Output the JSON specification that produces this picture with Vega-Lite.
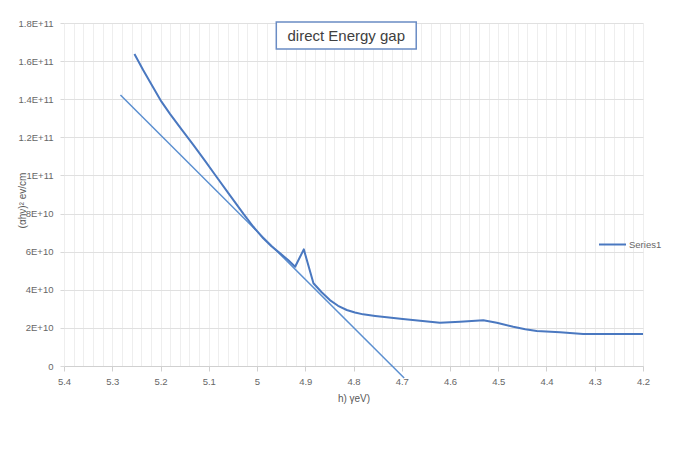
{
  "$schema": "https://vega.github.io/schema/vega-lite/v6.json",
  "width": 579,
  "height": 343,
  "autosize": {"type": "none"},
  "padding": {"left": 64, "top": 23, "right": 30, "bottom": 86},
  "background": "white",
  "config": {
    "view": {"stroke": null},
    "font": "Liberation Sans",
    "axis": {
      "titleFont": "Liberation Sans",
      "titleFontSize": 10,
      "titleFontWeight": "normal",
      "titleColor": "#595959",
      "labelFontSize": 9.5,
      "labelColor": "#666666",
      "grid": true,
      "gridWidth": 1
    }
  },
  "datasets": {
    "series": [
      {"energy": 5.254, "absorption": 1.637e11, "series": "Series1"},
      {"energy": 5.236, "absorption": 1.553e11, "series": "Series1"},
      {"energy": 5.216, "absorption": 1.465e11, "series": "Series1"},
      {"energy": 5.198, "absorption": 1.387e11, "series": "Series1"},
      {"energy": 5.180, "absorption": 1.322e11, "series": "Series1"},
      {"energy": 5.156, "absorption": 1.240e11, "series": "Series1"},
      {"energy": 5.132, "absorption": 1.160e11, "series": "Series1"},
      {"energy": 5.108, "absorption": 1.078e11, "series": "Series1"},
      {"energy": 5.084, "absorption": 9.93e10, "series": "Series1"},
      {"energy": 5.056, "absorption": 8.95e10, "series": "Series1"},
      {"energy": 5.028, "absorption": 7.98e10, "series": "Series1"},
      {"energy": 5.008, "absorption": 7.32e10, "series": "Series1"},
      {"energy": 4.987, "absorption": 6.70e10, "series": "Series1"},
      {"energy": 4.970, "absorption": 6.28e10, "series": "Series1"},
      {"energy": 4.952, "absorption": 5.91e10, "series": "Series1"},
      {"energy": 4.935, "absorption": 5.55e10, "series": "Series1"},
      {"energy": 4.921, "absorption": 5.21e10, "series": "Series1"},
      {"energy": 4.903, "absorption": 6.12e10, "series": "Series1"},
      {"energy": 4.883, "absorption": 4.34e10, "series": "Series1"},
      {"energy": 4.866, "absorption": 3.87e10, "series": "Series1"},
      {"energy": 4.849, "absorption": 3.46e10, "series": "Series1"},
      {"energy": 4.832, "absorption": 3.16e10, "series": "Series1"},
      {"energy": 4.814, "absorption": 2.94e10, "series": "Series1"},
      {"energy": 4.797, "absorption": 2.81e10, "series": "Series1"},
      {"energy": 4.780, "absorption": 2.71e10, "series": "Series1"},
      {"energy": 4.755, "absorption": 2.63e10, "series": "Series1"},
      {"energy": 4.731, "absorption": 2.56e10, "series": "Series1"},
      {"energy": 4.698, "absorption": 2.47e10, "series": "Series1"},
      {"energy": 4.662, "absorption": 2.38e10, "series": "Series1"},
      {"energy": 4.621, "absorption": 2.27e10, "series": "Series1"},
      {"energy": 4.579, "absorption": 2.32e10, "series": "Series1"},
      {"energy": 4.531, "absorption": 2.40e10, "series": "Series1"},
      {"energy": 4.503, "absorption": 2.27e10, "series": "Series1"},
      {"energy": 4.469, "absorption": 2.06e10, "series": "Series1"},
      {"energy": 4.444, "absorption": 1.93e10, "series": "Series1"},
      {"energy": 4.420, "absorption": 1.84e10, "series": "Series1"},
      {"energy": 4.372, "absorption": 1.77e10, "series": "Series1"},
      {"energy": 4.324, "absorption": 1.68e10, "series": "Series1"},
      {"energy": 4.262, "absorption": 1.68e10, "series": "Series1"},
      {"energy": 4.200, "absorption": 1.68e10, "series": "Series1"}
    ],
    "tangent": [
      {"energy": 5.283, "absorption": 1.422e11},
      {"energy": 4.695, "absorption": -6.3e9}
    ],
    "heading": [
      {"label": "direct Energy gap"}
    ]
  },
  "layer": [
    {
      "data": {"name": "tangent"},
      "mark": {"type": "line", "color": "#5b8fd0", "strokeWidth": 1.5, "clip": false},
      "encoding": {
        "x": {
          "field": "energy",
          "type": "quantitative",
          "scale": {"domain": [4.2, 5.4], "reverse": true, "nice": false, "zero": false},
          "axis": {
            "title": "h) γeV)",
            "titlePadding": 8,
            "values": [5.4, 5.38, 5.36, 5.34, 5.32, 5.3, 5.28, 5.26, 5.24, 5.22, 5.2, 5.18, 5.16, 5.14, 5.12, 5.1, 5.08, 5.06, 5.04, 5.02, 5.0, 4.98, 4.96, 4.94, 4.92, 4.9, 4.88, 4.86, 4.84, 4.82, 4.8, 4.78, 4.76, 4.74, 4.72, 4.7, 4.68, 4.66, 4.64, 4.62, 4.6, 4.58, 4.56, 4.54, 4.52, 4.5, 4.48, 4.46, 4.44, 4.42, 4.4, 4.38, 4.36, 4.34, 4.32, 4.3, 4.28, 4.26, 4.24, 4.22, 4.2],
            "labelExpr": "abs(datum.value * 10 - round(datum.value * 10)) < 0.001 ? format(datum.value, '.1~f') : ''",
            "labelPadding": 5,
            "labelOverlap": false,
            "labelFlush": false,
            "domainColor": "#d0d0d0",
            "tickColor": "#d0d0d0",
            "tickSize": {"condition": {"test": "abs(datum.value * 10 - round(datum.value * 10)) < 0.001", "value": 5}, "value": 0},
            "gridColor": "#eeeeee"
          }
        },
        "y": {
          "field": "absorption",
          "type": "quantitative",
          "scale": {"domain": [0, 1.8e11], "nice": false},
          "axis": {
            "title": "(αhν)² ev/cm",
            "titleX": -42,
            "titleY": 177,
            "titleAlign": "center",
            "titleBaseline": "middle",
            "titleAngle": -90,
            "values": [0, 2e10, 4e10, 6e10, 8e10, 1e11, 1.2e11, 1.4e11, 1.6e11, 1.8e11],
            "labelExpr": "datum.value == 0 ? '0' : (datum.value < 1e11 ? format(datum.value / 1e10, '.2~r') + 'E+10' : format(datum.value / 1e11, '.2~r') + 'E+11')",
            "labelPadding": 7,
            "domain": false,
            "tickColor": "#d9d9d9",
            "tickSize": 4,
            "gridColor": "#e0e0e0"
          }
        }
      }
    },
    {
      "data": {"name": "series"},
      "mark": {"type": "line", "strokeWidth": 2, "strokeJoin": "round", "clip": false},
      "encoding": {
        "x": {
          "field": "energy",
          "type": "quantitative",
          "axis": {
            "title": "h) γeV)",
            "titlePadding": 8,
            "values": [5.4, 5.38, 5.36, 5.34, 5.32, 5.3, 5.28, 5.26, 5.24, 5.22, 5.2, 5.18, 5.16, 5.14, 5.12, 5.1, 5.08, 5.06, 5.04, 5.02, 5.0, 4.98, 4.96, 4.94, 4.92, 4.9, 4.88, 4.86, 4.84, 4.82, 4.8, 4.78, 4.76, 4.74, 4.72, 4.7, 4.68, 4.66, 4.64, 4.62, 4.6, 4.58, 4.56, 4.54, 4.52, 4.5, 4.48, 4.46, 4.44, 4.42, 4.4, 4.38, 4.36, 4.34, 4.32, 4.3, 4.28, 4.26, 4.24, 4.22, 4.2],
            "labelExpr": "abs(datum.value * 10 - round(datum.value * 10)) < 0.001 ? format(datum.value, '.1~f') : ''",
            "labelPadding": 5,
            "labelOverlap": false,
            "labelFlush": false,
            "domainColor": "#d0d0d0",
            "tickColor": "#d0d0d0",
            "tickSize": {"condition": {"test": "abs(datum.value * 10 - round(datum.value * 10)) < 0.001", "value": 5}, "value": 0},
            "gridColor": "#eeeeee"
          }
        },
        "y": {
          "field": "absorption",
          "type": "quantitative",
          "axis": {
            "title": "(αhν)² ev/cm",
            "titleX": -42,
            "titleY": 177,
            "titleAlign": "center",
            "titleBaseline": "middle",
            "titleAngle": -90,
            "values": [0, 2e10, 4e10, 6e10, 8e10, 1e11, 1.2e11, 1.4e11, 1.6e11, 1.8e11],
            "labelExpr": "datum.value == 0 ? '0' : (datum.value < 1e11 ? format(datum.value / 1e10, '.2~r') + 'E+10' : format(datum.value / 1e11, '.2~r') + 'E+11')",
            "labelPadding": 7,
            "domain": false,
            "tickColor": "#d9d9d9",
            "tickSize": 4,
            "gridColor": "#e0e0e0"
          }
        },
        "color": {
          "field": "series",
          "type": "nominal",
          "scale": {"range": ["#4a78c0"]},
          "legend": {
            "title": null,
            "orient": "none",
            "legendX": 534,
            "legendY": 207,
            "symbolType": "stroke",
            "symbolSize": 729,
            "symbolStrokeWidth": 2,
            "labelFontSize": 9.5,
            "labelColor": "#666666",
            "labelOffset": 2,
            "padding": 0
          }
        }
      }
    },
    {
      "data": {"name": "heading"},
      "mark": {"type": "rect", "fill": "white", "stroke": "#6a8cc4", "strokeWidth": 1.5, "clip": false},
      "encoding": {
        "x": {
          "datum": 4.960,
          "type": "quantitative",
          "axis": {
            "title": "h) γeV)",
            "titlePadding": 8,
            "values": [5.4, 5.38, 5.36, 5.34, 5.32, 5.3, 5.28, 5.26, 5.24, 5.22, 5.2, 5.18, 5.16, 5.14, 5.12, 5.1, 5.08, 5.06, 5.04, 5.02, 5.0, 4.98, 4.96, 4.94, 4.92, 4.9, 4.88, 4.86, 4.84, 4.82, 4.8, 4.78, 4.76, 4.74, 4.72, 4.7, 4.68, 4.66, 4.64, 4.62, 4.6, 4.58, 4.56, 4.54, 4.52, 4.5, 4.48, 4.46, 4.44, 4.42, 4.4, 4.38, 4.36, 4.34, 4.32, 4.3, 4.28, 4.26, 4.24, 4.22, 4.2],
            "labelExpr": "abs(datum.value * 10 - round(datum.value * 10)) < 0.001 ? format(datum.value, '.1~f') : ''",
            "labelPadding": 5,
            "labelOverlap": false,
            "labelFlush": false,
            "domainColor": "#d0d0d0",
            "tickColor": "#d0d0d0",
            "tickSize": {"condition": {"test": "abs(datum.value * 10 - round(datum.value * 10)) < 0.001", "value": 5}, "value": 0},
            "gridColor": "#eeeeee"
          }
        },
        "x2": {"datum": 4.670},
        "y": {
          "datum": 1.805e11,
          "type": "quantitative",
          "axis": {
            "title": "(αhν)² ev/cm",
            "titleX": -42,
            "titleY": 177,
            "titleAlign": "center",
            "titleBaseline": "middle",
            "titleAngle": -90,
            "values": [0, 2e10, 4e10, 6e10, 8e10, 1e11, 1.2e11, 1.4e11, 1.6e11, 1.8e11],
            "labelExpr": "datum.value == 0 ? '0' : (datum.value < 1e11 ? format(datum.value / 1e10, '.2~r') + 'E+10' : format(datum.value / 1e11, '.2~r') + 'E+11')",
            "labelPadding": 7,
            "domain": false,
            "tickColor": "#d9d9d9",
            "tickSize": 4,
            "gridColor": "#e0e0e0"
          }
        },
        "y2": {"datum": 1.664e11}
      }
    },
    {
      "data": {"name": "heading"},
      "mark": {"type": "text", "fontSize": 15, "color": "#404040", "align": "center", "baseline": "middle", "clip": false},
      "encoding": {
        "x": {
          "datum": 4.815,
          "type": "quantitative",
          "axis": {
            "title": "h) γeV)",
            "titlePadding": 8,
            "values": [5.4, 5.38, 5.36, 5.34, 5.32, 5.3, 5.28, 5.26, 5.24, 5.22, 5.2, 5.18, 5.16, 5.14, 5.12, 5.1, 5.08, 5.06, 5.04, 5.02, 5.0, 4.98, 4.96, 4.94, 4.92, 4.9, 4.88, 4.86, 4.84, 4.82, 4.8, 4.78, 4.76, 4.74, 4.72, 4.7, 4.68, 4.66, 4.64, 4.62, 4.6, 4.58, 4.56, 4.54, 4.52, 4.5, 4.48, 4.46, 4.44, 4.42, 4.4, 4.38, 4.36, 4.34, 4.32, 4.3, 4.28, 4.26, 4.24, 4.22, 4.2],
            "labelExpr": "abs(datum.value * 10 - round(datum.value * 10)) < 0.001 ? format(datum.value, '.1~f') : ''",
            "labelPadding": 5,
            "labelOverlap": false,
            "labelFlush": false,
            "domainColor": "#d0d0d0",
            "tickColor": "#d0d0d0",
            "tickSize": {"condition": {"test": "abs(datum.value * 10 - round(datum.value * 10)) < 0.001", "value": 5}, "value": 0},
            "gridColor": "#eeeeee"
          }
        },
        "y": {
          "datum": 1.734e11,
          "type": "quantitative",
          "axis": {
            "title": "(αhν)² ev/cm",
            "titleX": -42,
            "titleY": 177,
            "titleAlign": "center",
            "titleBaseline": "middle",
            "titleAngle": -90,
            "values": [0, 2e10, 4e10, 6e10, 8e10, 1e11, 1.2e11, 1.4e11, 1.6e11, 1.8e11],
            "labelExpr": "datum.value == 0 ? '0' : (datum.value < 1e11 ? format(datum.value / 1e10, '.2~r') + 'E+10' : format(datum.value / 1e11, '.2~r') + 'E+11')",
            "labelPadding": 7,
            "domain": false,
            "tickColor": "#d9d9d9",
            "tickSize": 4,
            "gridColor": "#e0e0e0"
          }
        },
        "text": {"field": "label"}
      }
    }
  ]
}
